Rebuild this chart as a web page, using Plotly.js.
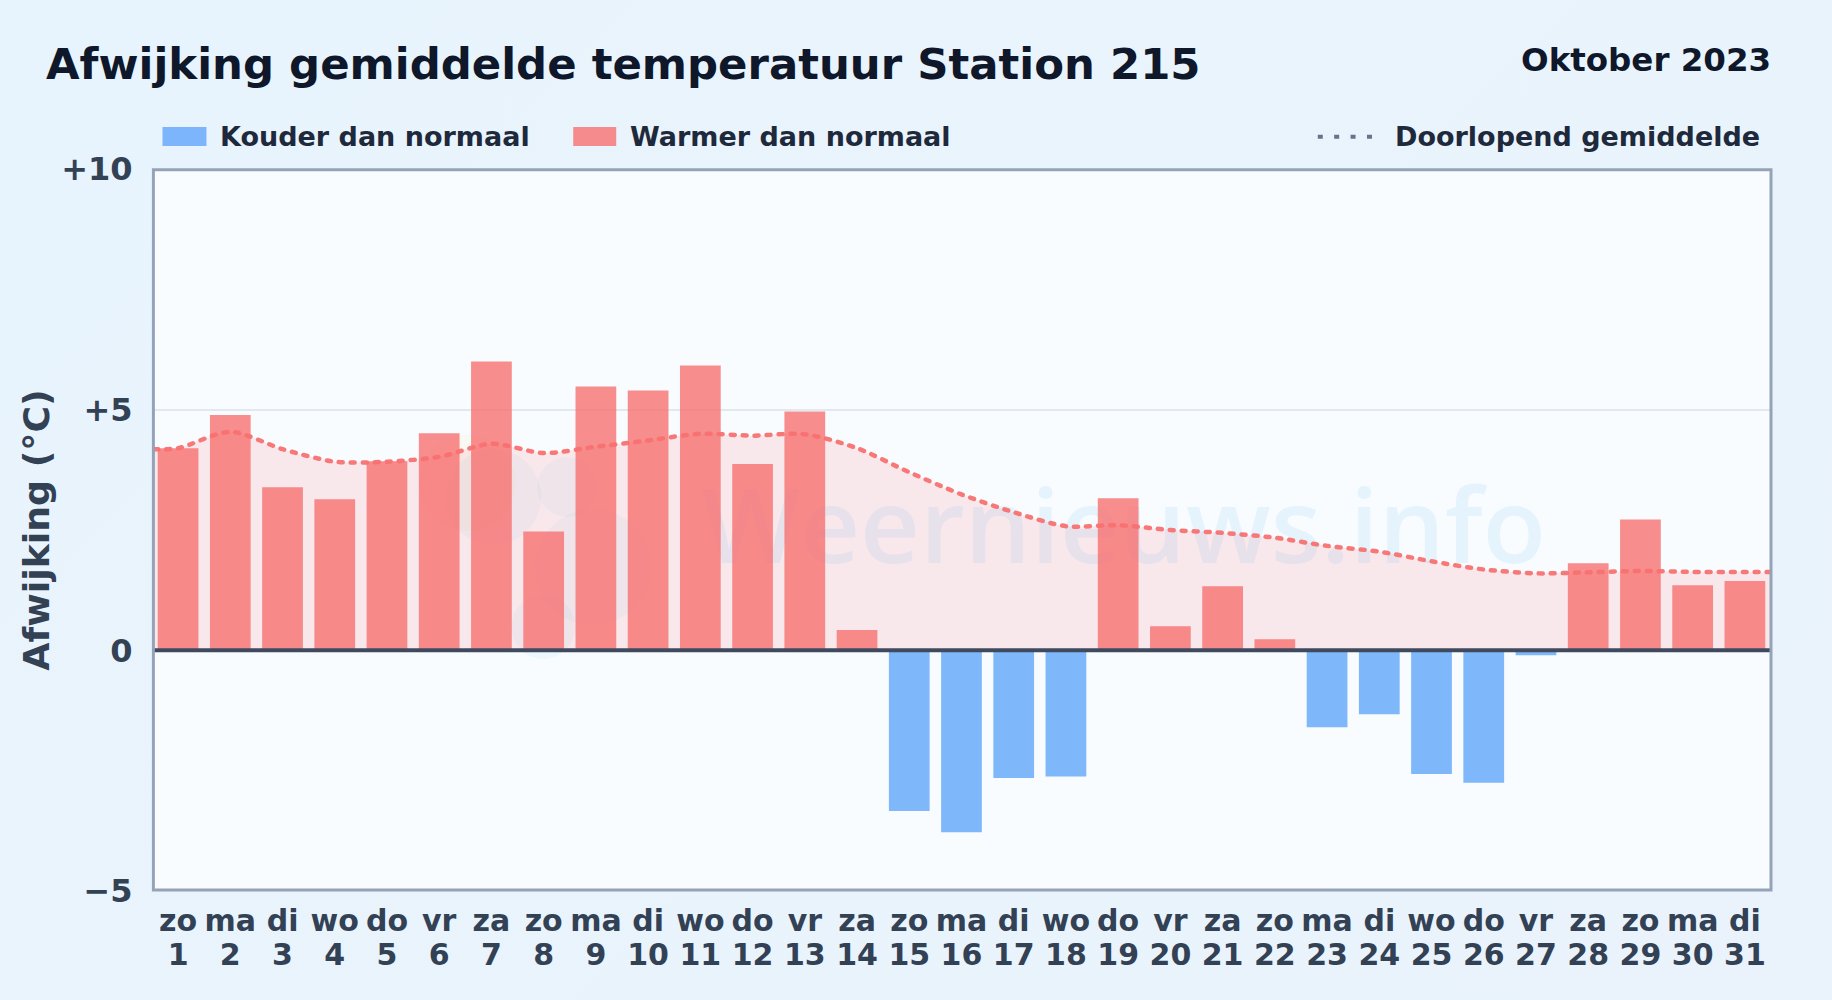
<!DOCTYPE html>
<html>
<head>
<meta charset="utf-8">
<script src="https://cdn.plot.ly/plotly-3.0.1.min.js"></script>
<style>
html,body{margin:0;padding:0;background:#e8f3fc;}
#chart{width:1832px;height:1000px;background:linear-gradient(135deg,#e8f4fd 0%,#eaf3fc 100%);}
</style>
</head>
<body>
<div id="chart"></div>
<script>
const days = [1,2,3,4,5,6,7,8,9,10,11,12,13,14,15,16,17,18,19,20,21,22,23,24,25,26,27,28,29,30,31];
const weekdays = ["zo","ma","di","wo","do","vr","za","zo","ma","di","wo","do","vr","za","zo","ma","di","wo","do","vr","za","zo","ma","di","wo","do","vr","za","zo","ma","di"];
const deviation = [4.20,4.89,3.39,3.14,3.93,4.51,6.00,2.47,5.48,5.40,5.92,3.87,4.96,0.42,-3.34,-3.78,-2.65,-2.62,3.16,0.50,1.33,0.23,-1.60,-1.33,-2.57,-2.75,-0.10,1.81,2.72,1.35,1.44];
const meanDays = [0.54,1,2,3,4,5,6,7,8,9,10,11,12,13,14,15,16,17,18,19,20,21,22,23,24,25,26,27,28,29,30,31,31.5];
const runningMean = [4.18,4.2,4.54,4.18,3.92,3.92,4.02,4.29,4.1,4.23,4.36,4.5,4.46,4.49,4.2,3.7,3.24,2.87,2.58,2.6,2.5,2.44,2.34,2.17,2.05,1.85,1.68,1.6,1.62,1.65,1.63,1.63,1.63];
const yTickVals = [-5,0,5,10];
const yTickText = ["−5","0","+5","+10"];
const seriesNames = ["Kouder dan normaal","Warmer dan normaal","Doorlopend gemiddelde"];
const titleText = "Afwijking gemiddelde temperatuur Station 215";
const periodText = "Oktober 2023";
const axisTitle = "Afwijking (°C)";
const watermark = "Weernieuws.info";

const FONT = "'DejaVu Sans', sans-serif";
const BLUE = "rgba(96,165,250,0.8)", RED = "rgba(248,113,113,0.8)";
const W = 1832, H = 1000;
const L = 153.5, R = 1771.5, T = 169, B = 891;
const PW = R - L, PH = B - T;
const xp = v => (v - L) / PW, yp = v => (B - v) / PH;
const Y_RANGE = [-5, 10], X_RANGE = [0.539, 31.5];

const traces = [
  {type:"scatter", x:meanDays, y:runningMean, mode:"none", fill:"tozeroy",
   fillcolor:"rgba(254,120,120,0.15)", line:{shape:"spline",smoothing:0.8}, showlegend:false},
  {type:"scatter", x:[19.11], y:[2.36], mode:"text", text:[watermark], textposition:"middle center",
   textfont:{family:"'Open Sans', sans-serif",size:104,color:"rgba(48,152,230,0.09)",weight:600}, showlegend:false},
  {type:"bar", name:seriesNames[0], x:days.filter((d,i)=>deviation[i]<0), y:deviation.filter(v=>v<0),
   xaxis:"x2", yaxis:"y2", width:0.78, marker:{color:BLUE,line:{width:0}}, showlegend:false},
  {type:"bar", name:seriesNames[1], x:days.filter((d,i)=>deviation[i]>=0), y:deviation.filter(v=>v>=0),
   xaxis:"x2", yaxis:"y2", width:0.78, marker:{color:RED,line:{width:0}}, showlegend:false},
  {type:"scatter", name:seriesNames[2], x:meanDays, y:runningMean, xaxis:"x2", yaxis:"y2", mode:"lines",
   line:{color:"rgba(248,113,113,0.95)",width:4.5,dash:"4px,8px",shape:"spline",smoothing:0.8}, showlegend:false}
];

function circle(cx, cy, r, color){
  return {type:"circle", xref:"paper", yref:"paper", layer:"below", line:{width:0}, fillcolor:color,
          x0:xp(cx-r), x1:xp(cx+r), y0:yp(cy+r), y1:yp(cy-r)};
}
function swatch(x0,x1,color){
  return {type:"rect", xref:"paper", yref:"paper", x0:xp(x0), x1:xp(x1),
          y0:yp(146), y1:yp(127), fillcolor:color, line:{width:0}};
}
function label(text,xPix,yPix,size,color,anchor){
  return {text:text, xref:"paper", yref:"paper", x:xp(xPix), y:yp(yPix),
          xanchor:anchor, yanchor:"middle", showarrow:false,
          font:{family:FONT,size:size,color:color,weight:700}};
}

const tickBase = {tickmode:"array", tickvals:days, tickangle:0, ticks:"outside", tickcolor:"rgba(0,0,0,0)",
  tickfont:{family:FONT,size:30,color:"#334155",weight:700}, showgrid:false, zeroline:false, showline:false};

const layout = {
  width:W, height:H,
  margin:{l:L,r:W-R,t:T,b:H-B,pad:0},
  paper_bgcolor:"rgba(0,0,0,0)",
  plot_bgcolor:"#f8fcff",
  barmode:"overlay",
  hovermode:false,
  showlegend:false,
  title:{text:titleText, x:46/W, xanchor:"left", xref:"container", y:1-64/H, yanchor:"middle", yref:"container",
         font:{family:FONT,size:43.4,color:"#0f172a",weight:700}},
  xaxis:Object.assign({}, tickBase, {range:X_RANGE, ticktext:weekdays, ticklen:3}),
  xaxis2:Object.assign({}, tickBase, {range:X_RANGE, ticktext:days.map(String), ticklen:37, overlaying:"x", anchor:"y2"}),
  yaxis:{range:Y_RANGE, tickmode:"array", tickvals:yTickVals, ticktext:yTickText,
         tickfont:{family:FONT,size:32,color:"#334155",weight:700},
         ticks:"outside", ticklen:14, tickcolor:"rgba(0,0,0,0)",
         showgrid:true, gridcolor:"#e2e8f0", gridwidth:2, zeroline:false, showline:false,
         title:{text:axisTitle, standoff:0, font:{family:FONT,size:36.3,color:"#334155",weight:700}}},
  yaxis2:{range:Y_RANGE, overlaying:"y", anchor:"x2", visible:false, showgrid:false, zeroline:false},
  shapes:[
    circle(467,483,48,"rgba(250,204,21,0.05)"),
    circle(493,497,48,"rgba(48,152,230,0.05)"),
    circle(567,487,30,"rgba(48,152,230,0.05)"),
    circle(593,567,58,"rgba(48,152,230,0.05)"),
    circle(543,627,32,"rgba(48,152,230,0.05)"),
    {type:"line", xref:"paper", yref:"y", x0:0, x1:1, y0:0, y1:0, line:{color:"#3f4a5f",width:4}, layer:"above"},
    {type:"rect", xref:"paper", yref:"paper", x0:xp(152.9), x1:1, y0:yp(890), y1:yp(169.7), line:{color:"#94a3b8",width:3}, layer:"above"},
    swatch(162,206,BLUE),
    swatch(573,616,RED),
    {type:"line", xref:"paper", yref:"paper", x0:xp(1318), x1:xp(1373), y0:yp(136.7), y1:yp(136.7),
     line:{color:"#64748b",width:4,dash:"5px,11.4px"}}
  ],
  annotations:[
    label(periodText,1774,60.5,32.5,"#0f172a","right"),
    label(seriesNames[0],217.5,136.5,27,"#1e293b","left"),
    label(seriesNames[1],628,136.5,27,"#1e293b","left"),
    label(seriesNames[2],1393,136.5,27,"#1e293b","left")
  ]
};
Plotly.newPlot("chart", traces, layout, {displayModeBar:false, staticPlot:true}).then(() => {
  document.querySelectorAll(".scatterlayer .js-line").forEach(p => { p.style.strokeLinecap = "round"; });
});
</script>
</body>
</html>
